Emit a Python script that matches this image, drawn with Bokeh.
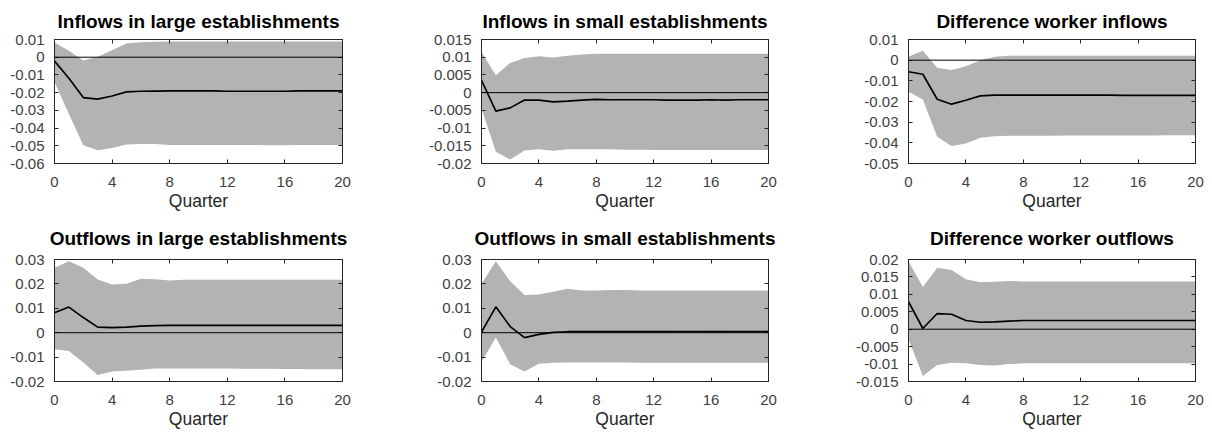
from bokeh.plotting import figure
from bokeh.layouts import column, row
from bokeh.models import Range1d, FixedTicker, LinearAxis, Span
from bokeh.embed import file_html
from bokeh.resources import INLINE

quarters = list(range(21))
x_ticks = [0, 4, 8, 12, 16, 20]

titles = [
    "Inflows in large establishments",
    "Inflows in small establishments",
    "Difference worker inflows",
    "Outflows in large establishments",
    "Outflows in small establishments",
    "Difference worker outflows",
]

# Panel 1: Inflows in large establishments
irf_in_large = [-0.0022, -0.0119, -0.0228, -0.0237, -0.0219, -0.0196, -0.0192, -0.0191, -0.019, -0.019, -0.019,
                -0.019, -0.0192, -0.0192, -0.0192, -0.0192, -0.0192, -0.019, -0.019, -0.019, -0.019]
up_in_large = [0.0083, 0.0037, -0.0019, 0.0003, 0.004, 0.0077, 0.0085, 0.0088, 0.0089, 0.0089, 0.0089,
               0.0089, 0.0089, 0.0089, 0.0089, 0.0089, 0.0089, 0.0089, 0.0089, 0.0089, 0.0089]
lo_in_large = [-0.014, -0.032, -0.0497, -0.0525, -0.0512, -0.0493, -0.049, -0.049, -0.0495, -0.0495, -0.0495,
               -0.0496, -0.0496, -0.0496, -0.0496, -0.0497, -0.0497, -0.0496, -0.0496, -0.0496, -0.0496]
yt_in_large = [0.01, 0.0, -0.01, -0.02, -0.03, -0.04, -0.05, -0.06]
yl_in_large = ["0.01", "0", "-0.01", "-0.02", "-0.03", "-0.04", "-0.05", "-0.06"]

# Panel 2: Inflows in small establishments
irf_in_small = [0.0035, -0.0052, -0.0043, -0.0021, -0.0021, -0.0026, -0.0024, -0.0021, -0.0019, -0.002, -0.002,
                -0.002, -0.002, -0.0021, -0.0021, -0.0021, -0.002, -0.0021, -0.002, -0.002, -0.002]
up_in_small = [0.0115, 0.0049, 0.0084, 0.0098, 0.0103, 0.0099, 0.0104, 0.0108, 0.011, 0.011, 0.011,
               0.011, 0.011, 0.011, 0.011, 0.011, 0.011, 0.011, 0.011, 0.011, 0.011]
lo_in_small = [-0.0045, -0.0167, -0.0189, -0.0163, -0.016, -0.0164, -0.016, -0.016, -0.016, -0.016, -0.0161,
               -0.0161, -0.0162, -0.0162, -0.0162, -0.0162, -0.0162, -0.0162, -0.0162, -0.0162, -0.0162]
yt_in_small = [0.015, 0.01, 0.005, 0.0, -0.005, -0.01, -0.015, -0.02]
yl_in_small = ["0.015", "0.01", "0.005", "0", "-0.005", "-0.01", "-0.015", "-0.02"]

# Panel 3: Difference worker inflows
irf_in_diff = [-0.0056, -0.0068, -0.0189, -0.0213, -0.0194, -0.0173, -0.0169, -0.0169, -0.0169, -0.0169, -0.0169,
               -0.0169, -0.0169, -0.0169, -0.0169, -0.017, -0.017, -0.017, -0.017, -0.017, -0.017]
up_in_diff = [0.0016, 0.0045, -0.0037, -0.0048, -0.0029, 0.0, 0.0016, 0.0021, 0.0021, 0.0021, 0.0021,
              0.0021, 0.0021, 0.0021, 0.0021, 0.0021, 0.0021, 0.0021, 0.0021, 0.0021, 0.0021]
lo_in_diff = [-0.0153, -0.019, -0.0371, -0.0415, -0.0403, -0.0376, -0.0368, -0.0366, -0.0366, -0.0366, -0.0366,
              -0.0365, -0.0365, -0.0365, -0.0365, -0.0364, -0.0364, -0.0364, -0.0363, -0.0363, -0.0363]
yt_in_diff = [0.01, 0.0, -0.01, -0.02, -0.03, -0.04, -0.05]
yl_in_diff = ["0.01", "0", "-0.01", "-0.02", "-0.03", "-0.04", "-0.05"]

# Panel 4: Outflows in large establishments
irf_out_large = [0.0082, 0.0105, 0.0062, 0.0023, 0.0021, 0.0023, 0.0027, 0.0029, 0.003, 0.003, 0.003,
                 0.003, 0.003, 0.003, 0.003, 0.003, 0.003, 0.003, 0.003, 0.003, 0.003]
up_out_large = [0.0266, 0.0293, 0.0266, 0.0218, 0.0198, 0.0201, 0.0221, 0.0219, 0.0214, 0.0217, 0.0217,
                0.0217, 0.0217, 0.0217, 0.0217, 0.0217, 0.0217, 0.0217, 0.0217, 0.0217, 0.0217]
lo_out_large = [-0.0068, -0.0075, -0.0122, -0.0173, -0.0159, -0.0156, -0.0152, -0.0147, -0.0147, -0.0147, -0.0147,
                -0.0147, -0.0147, -0.0148, -0.0148, -0.0148, -0.0149, -0.0149, -0.015, -0.015, -0.015]
yt_out_large = [0.03, 0.02, 0.01, 0.0, -0.01, -0.02]
yl_out_large = ["0.03", "0.02", "0.01", "0", "-0.01", "-0.02"]

# Panel 5: Outflows in small establishments
irf_out_small = [0.0003, 0.0106, 0.0025, -0.002, -0.0007, 0.0001, 0.0004, 0.0004, 0.0004, 0.0004, 0.0004,
                 0.0004, 0.0004, 0.0004, 0.0005, 0.0005, 0.0004, 0.0004, 0.0005, 0.0005, 0.0005]
up_out_small = [0.02, 0.0293, 0.0211, 0.0154, 0.0157, 0.0168, 0.018, 0.0173, 0.0173, 0.0175, 0.0175,
                0.0173, 0.0173, 0.0173, 0.0173, 0.0173, 0.0173, 0.0173, 0.0173, 0.0173, 0.0173]
lo_out_small = [-0.012, -0.002, -0.0129, -0.0159, -0.0127, -0.0123, -0.0122, -0.0122, -0.0122, -0.0122, -0.0122,
                -0.0123, -0.0123, -0.0123, -0.0123, -0.0123, -0.0123, -0.0123, -0.0123, -0.0123, -0.0123]
yt_out_small = [0.03, 0.02, 0.01, 0.0, -0.01, -0.02]
yl_out_small = ["0.03", "0.02", "0.01", "0", "-0.01", "-0.02"]

# Panel 6: Difference worker outflows
irf_out_diff = [0.0079, 0.0002, 0.0045, 0.0043, 0.0025, 0.002, 0.0021, 0.0023, 0.0025, 0.0025, 0.0025,
                0.0025, 0.0025, 0.0025, 0.0025, 0.0025, 0.0025, 0.0025, 0.0025, 0.0025, 0.0025]
up_out_diff = [0.0195, 0.0121, 0.0176, 0.017, 0.0143, 0.0135, 0.0136, 0.0138, 0.0137, 0.0137, 0.0137,
               0.0137, 0.0137, 0.0137, 0.0137, 0.0137, 0.0137, 0.0137, 0.0137, 0.0137, 0.0137]
lo_out_diff = [-0.0029, -0.0134, -0.0103, -0.0096, -0.0098, -0.0103, -0.0104, -0.01, -0.0098, -0.0098, -0.0098,
               -0.0098, -0.0098, -0.0098, -0.0098, -0.0098, -0.0098, -0.0098, -0.0098, -0.0098, -0.0098]
yt_out_diff = [0.02, 0.015, 0.01, 0.005, 0.0, -0.005, -0.01, -0.015]
yl_out_diff = ["0.02", "0.015", "0.01", "0.005", "0", "-0.005", "-0.01", "-0.015"]

panels = [
    (irf_in_large, up_in_large, lo_in_large, yt_in_large, yl_in_large),
    (irf_in_small, up_in_small, lo_in_small, yt_in_small, yl_in_small),
    (irf_in_diff, up_in_diff, lo_in_diff, yt_in_diff, yl_in_diff),
    (irf_out_large, up_out_large, lo_out_large, yt_out_large, yl_out_large),
    (irf_out_small, up_out_small, lo_out_small, yt_out_small, yl_out_small),
    (irf_out_diff, up_out_diff, lo_out_diff, yt_out_diff, yl_out_diff),
]

FONT = "Liberation Sans"
FRAME = "#262626"
LABEL = "#404040"
BAND = "#b3b3b3"

# layout geometry per column: (width, border_left, border_right)
col_geom = [(412, 54, 70), (404, 69, 48), (394, 92, 15)]
# per row: (height, border_top, border_bottom)
row_geom = [(220, 39, 57), (218, 45, 51)]
title_standoff = [16, 22]

figs = []
for i, (irf, up, lo, yt, yl) in enumerate(panels):
    r, c = divmod(i, 3)
    w, bl, br = col_geom[c]
    h, bt, bb = row_geom[r]
    p = figure(width=w, height=h, output_backend="svg", toolbar_location=None,
               x_range=Range1d(0, 20), y_range=Range1d(min(yt), max(yt)),
               min_border_left=bl, min_border_right=br, min_border_top=bt, min_border_bottom=bb,
               x_axis_location=None, y_axis_location=None)
    p.grid.visible = False
    p.outline_line_color = FRAME
    p.outline_line_width = 1
    p.background_fill_color = "white"
    p.border_fill_color = "white"

    p.varea(x=quarters, y1=lo, y2=up, fill_color=BAND, fill_alpha=1.0)
    p.add_layout(Span(location=0, dimension="width", line_color="black", line_width=1))
    p.line(quarters, irf, line_color="black", line_width=1.7)

    xa = LinearAxis(ticker=FixedTicker(ticks=x_ticks), axis_label="Quarter")
    ya = LinearAxis(ticker=FixedTicker(ticks=yt))
    ya.major_label_overrides = {t: s for t, s in zip(yt, yl)}
    for ax in (xa, ya):
        ax.axis_line_color = FRAME
        ax.major_tick_line_color = FRAME
        ax.major_tick_in = 4
        ax.major_tick_out = 0
        ax.minor_tick_line_color = None
        ax.major_label_text_font = FONT
        ax.major_label_text_font_size = "15px"
        ax.major_label_text_color = LABEL
    xa.major_label_standoff = 13
    ya.major_label_standoff = 10
    xa.axis_label_text_font = FONT
    xa.axis_label_text_font_size = "17.5px"
    xa.axis_label_text_font_style = "normal"
    xa.axis_label_text_color = "#262626"
    xa.axis_label_standoff = 1
    p.add_layout(xa, "below")
    p.add_layout(ya, "left")

    ta = LinearAxis(ticker=FixedTicker(ticks=x_ticks))
    ra = LinearAxis(ticker=FixedTicker(ticks=yt))
    for ax in (ta, ra):
        ax.axis_line_color = FRAME
        ax.major_tick_line_color = FRAME
        ax.major_tick_in = 4
        ax.major_tick_out = 0
        ax.minor_tick_line_color = None
        ax.major_label_text_font_size = "1px"
        ax.major_label_text_color = None
        ax.major_label_text_alpha = 0
        ax.major_label_standoff = 0
    p.add_layout(ta, "above")
    p.add_layout(ra, "right")

    p.title.text = titles[i]
    p.title.align = "center"
    p.title.text_font = FONT
    p.title.text_font_size = "19px"
    p.title.text_font_style = "bold"
    p.title.text_color = "black"
    p.title.standoff = title_standoff[r]
    figs.append(p)

layout = column(row(*figs[:3]), row(*figs[3:], margin=(-6, 0, 0, 0)))
open("out.html", "w").write(file_html(layout, INLINE))
